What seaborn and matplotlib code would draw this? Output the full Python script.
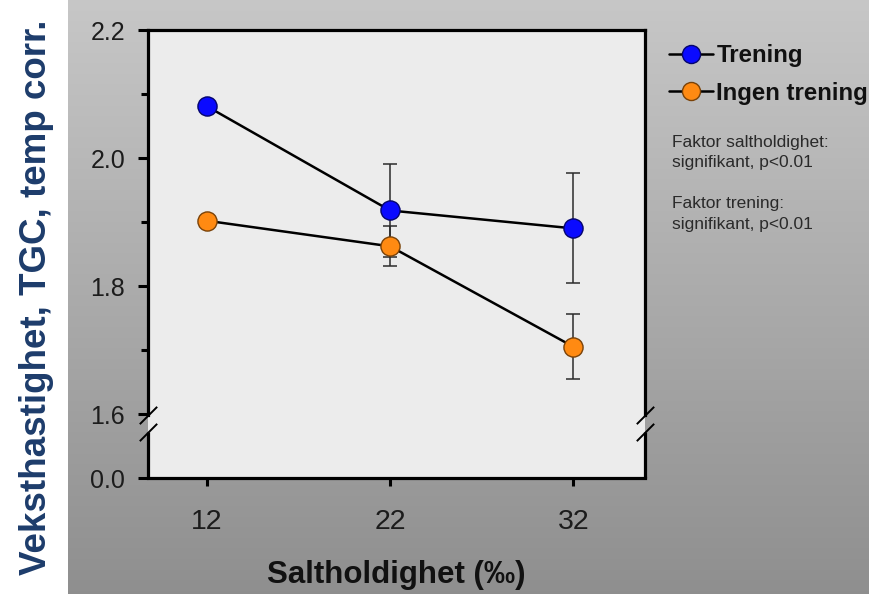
import numpy as np
import pandas as pd
import matplotlib
matplotlib.use("Agg")
import matplotlib.pyplot as plt
from matplotlib.lines import Line2D
import seaborn as sns

# Growth rate (TGC, temperature corrected) by salinity, with and without training
salinity = [12, 22, 32]
groups = ["Trening", "Ingen trening"]
tgc_trening = [2.081, 1.918, 1.890]
err_trening = [0.0, 0.072, 0.086]
tgc_ingen = [1.902, 1.862, 1.705]
err_ingen = [0.0, 0.031, 0.051]

# Broken y axis: the bottom tick stands for zero
ytick_pos = [1.5, 1.6, 1.8, 2.0, 2.2]
ytick_labels = ["0.0", "1.6", "1.8", "2.0", "2.2"]
ytick_minor = [1.7, 1.9, 2.1]
xtick_labels = ["12", "22", "32"]

notes = ["Faktor saltholdighet:\nsignifikant, p<0.01",
         "Faktor trening:\nsignifikant, p<0.01"]

colors = {"Trening": "#0a0aff", "Ingen trening": "#ff8a12"}
edges = {"Trening": "#05056e", "Ingen trening": "#7a4208"}

df = pd.DataFrame({
    "Saltholdighet": salinity * 2,
    "TGC": tgc_trening + tgc_ingen,
    "err": err_trening + err_ingen,
    "Gruppe": [groups[0]] * 3 + [groups[1]] * 3,
})

sns.set_theme(style="white")
plt.rcParams["font.family"] = ["Liberation Sans", "DejaVu Sans"]

W, H = 869, 594
fig = plt.figure(figsize=(W / 100, H / 100), dpi=100)
fig.patch.set_facecolor("white")

# Grey slide backdrop to the right of the white strip
bg = fig.add_axes([68 / W, 0, 1 - 68 / W, 1], zorder=-10)
grad = np.linspace(0.78, 0.56, 256).reshape(-1, 1)
bg.imshow(np.dstack([grad, grad, grad]), aspect="auto", extent=[0, 1, 0, 1])
bg.set_axis_off()

left, right, top, bottom = 148, 645, 30, 478
ax = fig.add_axes([left / W, 1 - bottom / H, (right - left) / W, (bottom - top) / H])
ax.set_facecolor("#ececec")

# Error bars behind the markers
for g in groups:
    sub = df[(df["Gruppe"] == g) & (df["err"] > 0)]
    ax.errorbar(sub["Saltholdighet"], sub["TGC"], yerr=sub["err"], fmt="none",
                ecolor="#2b2b2b", elinewidth=1.1, capsize=4.8, capthick=1.1, zorder=1)

sns.lineplot(data=df, x="Saltholdighet", y="TGC", units="Gruppe", estimator=None,
             color="black", lw=1.8, ax=ax, zorder=2, legend=False)
for g in groups:
    sns.scatterplot(data=df[df["Gruppe"] == g], x="Saltholdighet", y="TGC",
                    color=colors[g], edgecolor=edges[g], linewidth=1.0, s=190,
                    ax=ax, zorder=3, legend=False)

ax.set_xlim(8.8, 35.9)
ax.set_ylim(1.5, 2.2)
ax.set_xticks(salinity)
ax.set_xticklabels(xtick_labels)
ax.set_yticks(ytick_pos)
ax.set_yticklabels(ytick_labels)
ax.set_yticks(ytick_minor, minor=True)
ax.set_xlabel("")
ax.set_ylabel("")

ax.tick_params(axis="y", which="major", direction="out", length=7.5, width=2.2,
               color="black", labelsize=18, pad=9, left=True, labelcolor="#1c1c1c")
ax.tick_params(axis="y", which="minor", direction="out", length=5, width=2.2,
               color="black", left=True)
ax.tick_params(axis="x", which="major", direction="out", length=5.5, width=2.2,
               color="black", labelsize=20.5, pad=17, bottom=True, labelcolor="#1c1c1c")

spine_lw = 2.3
for name in ["top", "bottom", "left", "right"]:
    ax.spines[name].set_visible(True)
    ax.spines[name].set_color("black")
    ax.spines[name].set_linewidth(spine_lw)

# Axis break on both vertical spines
brk_hi, brk_lo = 1.598, 1.572
for side in ["left", "right"]:
    ax.spines[side].set_bounds(brk_hi, 2.2)
    xpos = 0 if side == "left" else 1
    ax.plot([xpos, xpos], [1.5, brk_lo], color="black", lw=spine_lw,
            transform=ax.get_yaxis_transform(), clip_on=False, solid_capstyle="butt")
    for yb in (brk_hi, brk_lo):
        ax.plot([xpos], [yb], marker=[(-1, -1), (1, 1)], markersize=12.5,
                mew=1.4, color="black", transform=ax.get_yaxis_transform(),
                clip_on=False)

fig.text(0.5 * (left + right) / W, 1 - 575 / H, "Saltholdighet (‰)",
         ha="center", va="center", fontsize=22.5, fontweight="bold", color="#111111")
fig.text(37 / W, 1 - 297 / H, "Veksthastighet, TGC, temp corr.", rotation=90,
         ha="center", va="center", fontsize=26.5, fontweight="bold", color="#1d3c6b")

handles = [Line2D([0], [0], color="black", lw=1.8, marker="o", markersize=13,
                  markerfacecolor=colors[g], markeredgecolor=edges[g], markeredgewidth=1.0)
           for g in groups]
leg = fig.legend(handles, groups, loc="upper left",
                 bbox_to_anchor=(669 / W, 1 - 44 / H), frameon=False,
                 fontsize=17.3, handlelength=1.85, handletextpad=0.12,
                 labelspacing=0.62, borderpad=0, borderaxespad=0)
for t in leg.get_texts():
    t.set_fontweight("bold")
    t.set_color("#111111")

fig.text(672 / W, 1 - 152.5 / H, notes[0], ha="left", va="center", fontsize=12.5,
         color="#2a2a2a", linespacing=1.45)
fig.text(672 / W, 1 - 214 / H, notes[1], ha="left", va="center", fontsize=12.5,
         color="#2a2a2a", linespacing=1.45)

fig.savefig("out.png", dpi=100, facecolor=fig.get_facecolor())
